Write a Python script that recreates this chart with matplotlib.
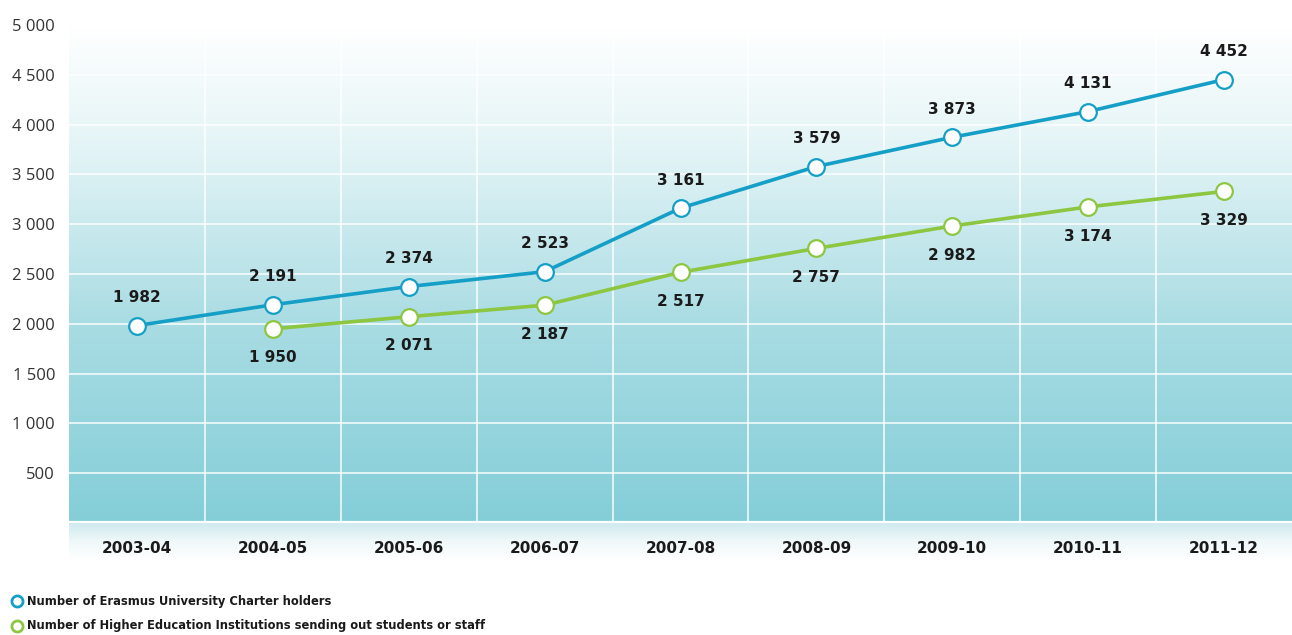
import numpy as np
import matplotlib
matplotlib.use("Agg")
import matplotlib.pyplot as plt
from matplotlib.colors import LinearSegmentedColormap
from matplotlib.lines import Line2D

years = ["2003-04", "2004-05", "2005-06", "2006-07", "2007-08",
         "2008-09", "2009-10", "2010-11", "2011-12"]
charter_holders = [1982, 2191, 2374, 2523, 3161, 3579, 3873, 4131, 4452]
sending_institutions = [None, 1950, 2071, 2187, 2517, 2757, 2982, 3174, 3329]
y_ticks = [500, 1000, 1500, 2000, 2500, 3000, 3500, 4000, 4500, 5000]

legend_labels = ["Number of Erasmus University Charter holders",
                 "Number of Higher Education Institutions sending out students or staff"]

BLUE = "#159fc7"
GREEN = "#8dc641"
TEXT = "#1a1a1a"

W, H = 1292, 635
fig = plt.figure(figsize=(W / 100, H / 100), dpi=100)
fig.patch.set_facecolor("white")

def fmt(v):
    return f"{v:,}".replace(",", " ")

# soft band behind the category labels
band = fig.add_axes([69 / W, 1 - 560 / H, 1 - 69 / W, 37 / H], zorder=0)
band_cmap = LinearSegmentedColormap.from_list("band", ["#ffffff", "#f0f8fa", "#d0ebef"])
band.imshow(np.linspace(0, 1, 64).reshape(-1, 1), aspect="auto",
            cmap=band_cmap, extent=[0, 1, 0, 1], origin="lower")
band.axis("off")

ax = fig.add_axes([69 / W, 1 - 523 / H, 1 - 69 / W, (523 - 25) / H], zorder=1)
x = np.arange(len(years))
ax.set_xlim(-0.5, len(years) - 0.5)
ax.set_ylim(0, 5000)

# vertical gradient background
bg_cmap = LinearSegmentedColormap.from_list(
    "bg", [(0.0, "#84ced8"), (0.4, "#a9dce3"), (0.75, "#e3f4f6"), (1.0, "#ffffff")])
ax.imshow(np.linspace(0, 1, 256).reshape(-1, 1), aspect="auto", cmap=bg_cmap,
          extent=[-0.5, len(years) - 0.5, 0, 5000], origin="lower", zorder=0)

for yv in y_ticks[:-1]:
    ax.axhline(yv, color="white", lw=1.3, alpha=0.8, zorder=1)
ax.axhline(0, color="white", lw=3, zorder=1)
for xv in np.arange(0.5, len(years) - 0.5, 1):
    ax.axvline(xv, color="white", lw=1.3, alpha=0.8, zorder=1)

for s in ax.spines.values():
    s.set_visible(False)

ax.plot(x, charter_holders, color=BLUE, lw=2.6, marker="o", ms=12,
        mfc="white", mec=BLUE, mew=1.6, zorder=4)
gx = [i for i, v in enumerate(sending_institutions) if v is not None]
gy = [v for v in sending_institutions if v is not None]
ax.plot(gx, gy, color=GREEN, lw=2.6, marker="o", ms=12,
        mfc="white", mec=GREEN, mew=1.6, zorder=3)

for xi, v in zip(x, charter_holders):
    ax.annotate(fmt(v), (xi, v), xytext=(0, 20), textcoords="offset points",
                ha="center", va="center", fontsize=11, fontweight="bold",
                color=TEXT, zorder=5)
for xi, v in zip(gx, gy):
    ax.annotate(fmt(v), (xi, v), xytext=(0, -21), textcoords="offset points",
                ha="center", va="center", fontsize=11, fontweight="bold",
                color=TEXT, zorder=5)

ax.set_xticks(x)
ax.set_xticklabels(years, fontsize=11, fontweight="bold", color=TEXT)
ax.set_yticks(y_ticks)
ax.set_yticklabels([fmt(v) for v in y_ticks], fontsize=12, color="#333333",
                   fontfamily="Open Sans")
ax.tick_params(axis="both", length=0)
ax.tick_params(axis="x", pad=13)
ax.tick_params(axis="y", pad=10)

# legend
for ypix, col, lab in zip([601, 626], [BLUE, GREEN], legend_labels):
    fig.add_artist(Line2D([17 / W], [1 - ypix / H], marker="o", ms=8,
                          mfc="white", mec=col, mew=2, ls="none",
                          transform=fig.transFigure))
    fig.text(27 / W, 1 - ypix / H, lab, ha="left", va="center",
             fontsize=8.3, fontweight="bold", color=TEXT)

fig.savefig("out.png", dpi=100, facecolor="white")
